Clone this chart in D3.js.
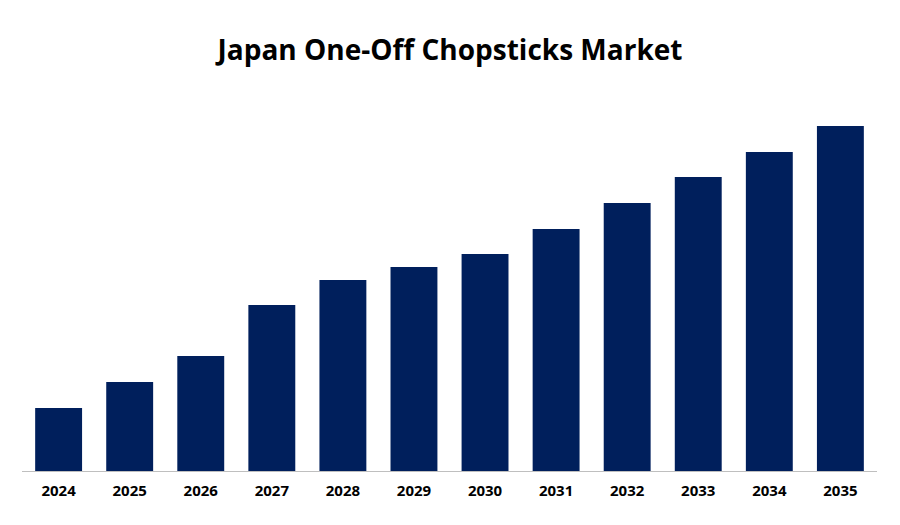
<!DOCTYPE html>
<html><head><meta charset="utf-8">
<script src="https://cdn.jsdelivr.net/npm/d3@7"></script>
<style>body{margin:0;background:#fff}</style></head>
<body><svg id="c" width="900" height="525"></svg>
<script>
const years = ["2024","2025","2026","2027","2028","2029","2030","2031","2032","2033","2034","2035"];
const values = [63, 89, 115, 166, 191, 204, 217, 242, 268, 294, 319, 345];
const svg = d3.select("#c");
const x = d3.scaleBand().domain(years).range([11, 888]).padding(0.34);
const y = d3.scaleLinear().domain([0, 345]).range([471, 126]);
svg.append("text").attr("x",450).attr("y",60).attr("text-anchor","middle")
  .attr("font-family","Open Sans, sans-serif").attr("font-weight","bold").attr("font-size",28)
  .text("Japan One-Off Chopsticks Market");
svg.selectAll("rect").data(values).join("rect")
  .attr("x",(d,i)=>x(years[i])).attr("width",x.bandwidth())
  .attr("y",d=>y(d)).attr("height",d=>y(0)-y(d)).attr("fill","#001f5c");
const ax = svg.append("g").attr("transform","translate(0,471)")
  .call(d3.axisBottom(x).tickSize(0).tickPadding(14));
ax.select(".domain").attr("stroke","#bfbfbf").attr("d","M22,0.5H877");
ax.selectAll("text").attr("font-family","Open Sans, sans-serif").attr("font-weight","bold")
  .attr("font-size",15).attr("fill","#000");
</script></body></html>
